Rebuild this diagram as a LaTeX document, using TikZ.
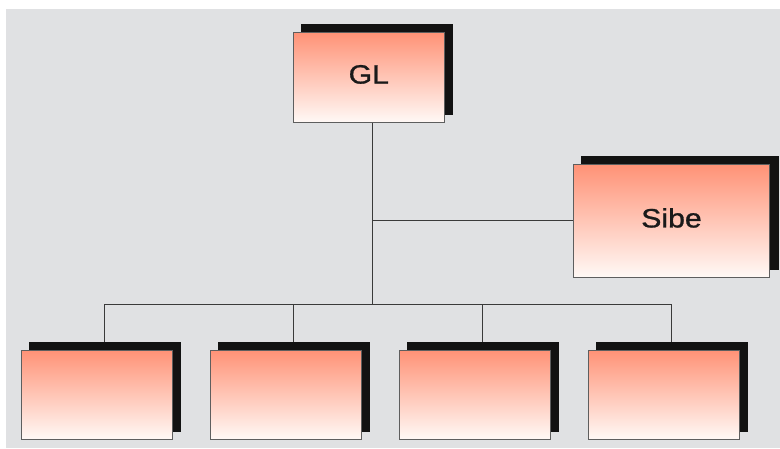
\documentclass[tikz,border=0pt]{standalone}
\usepackage{fontspec}
\newfontfamily\boxfont[FakeStretch=1.14,FakeBold=1]{Liberation Sans}
\usetikzlibrary{calc}
\definecolor{backdropc}{HTML}{E0E1E3}
\definecolor{salmontop}{HTML}{FF9276}
\definecolor{salmonend}{HTML}{FFF9F6}
\definecolor{edgec}{HTML}{5E5E5E}
\definecolor{shadowc}{HTML}{121212}
\definecolor{linec}{HTML}{3A3A3A}
\definecolor{inkc}{HTML}{1A1A1A}
\pgfdeclarelayer{backdrop}
\pgfdeclarelayer{shadowlayer}
\pgfsetlayers{backdrop,shadowlayer,main}
\tikzset{
  orgbox/.style={rectangle, inner sep=0pt, minimum width=151pt, minimum height=90pt,
    top color=salmontop, bottom color=salmonend, draw=edgec, line width=1pt,
    text=inkc, text depth=6pt, font=\boxfont\fontsize{26.5}{30}\selectfont},
  conn/.style={draw=linec, line width=1pt},
  boxshadow/.style={fill=shadowc}
}
\newcommand{\castshadow}[1]{%
  \begin{pgfonlayer}{shadowlayer}
    \fill[boxshadow] ([shift={(8.5pt,8pt)}]#1.north west) rectangle ([shift={(8.5pt,8pt)}]#1.south east);
  \end{pgfonlayer}}
\begin{document}
\begin{tikzpicture}[x=1pt,y=-1pt]
\useasboundingbox (0,0) rectangle (780,448);
\begin{pgfonlayer}{backdrop}
  \fill[white] (0,0) rectangle (780,448);
  \fill[backdropc] (6,9) rectangle (780,448);
\end{pgfonlayer}

% boxes
\node[orgbox] (GL) at (368.8,77.3) {GL};
\node[orgbox, minimum width=196.4pt, minimum height=113pt] (Sibe) at (671.5,220.8) {Sibe};
\node[orgbox, minimum height=89.3pt] (b1) at (96.8,394.7) {};
\node[orgbox, minimum height=89.3pt] (b2) at (285.8,394.7) {};
\node[orgbox, minimum height=89.3pt] (b3) at (474.8,394.7) {};
\node[orgbox, minimum height=89.3pt] (b4) at (663.8,394.7) {};
\foreach \n in {GL,Sibe,b1,b2,b3,b4} {\castshadow{\n}}

% connectors
\coordinate (bus) at (372.7,304);
\foreach \i in {1,...,4} {\coordinate (d\i) at ([shift={(7.5pt,8pt)}]b\i.north);}
\draw[conn] ([xshift=3.9pt]GL.south) -- (bus);
\draw[conn] (Sibe.west) -- (Sibe.west -| bus);
\draw[conn] (d1 |- bus) -- (d4 |- bus);
\foreach \i in {1,...,4} {\draw[conn] (d\i |- bus) -- (d\i);}
\end{tikzpicture}
\end{document}
